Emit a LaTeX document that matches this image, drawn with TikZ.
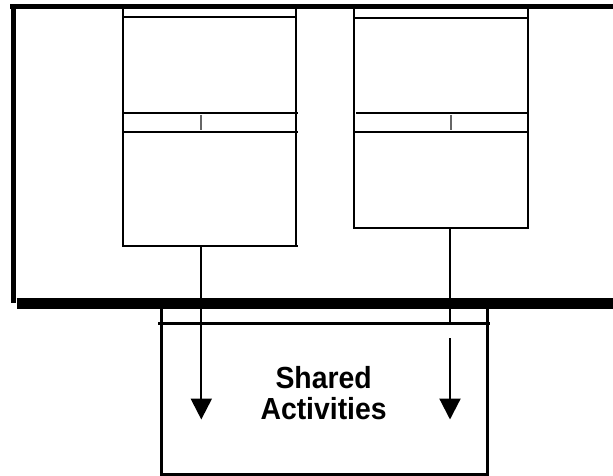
\documentclass[tikz,border=0pt]{standalone}
\usepackage{fontspec}
\setmainfont{Liberation Sans}
\newfontfamily\labelfont[FakeStretch=0.93]{Liberation Sans Bold}
\usetikzlibrary{arrows.meta}
\begin{document}
\begin{tikzpicture}[x=1pt,y=-1pt,
  rule/.style={line width=2.1pt},
  panel/.style={draw, rule, rectangle, inner sep=0pt},
  bar/.style={line width=#1, line cap=butt},
  link/.style={line width=2.2pt},
  tick/.style={line width=1.5pt, draw=black!60},
  droparrow/.style={-{Triangle[width=21pt,length=21pt]}}]
\useasboundingbox (0,0) rectangle (613,476);

% two stacked compartments
\node[panel, minimum width=172.8pt, minimum height=239.7pt] (left) at (209.4,126.35) {};
\node[panel, minimum width=174pt, minimum height=221.7pt] (right) at (441,117.35) {};

% compartment rules of the left box
\draw[rule] (123,16.8) -- (295.8,16.8);
\draw[rule] (123,113.2) -- (297.7,113.2);
\draw[rule] (123,132.2) -- (297.7,132.2);
\draw[rule] (295.8,246.2) -- (297.7,246.2);
\draw[tick] (201.2,115) -- (201.2,130);

% compartment rules of the right box
\draw[rule] (354,17.8) -- (528,17.8);
\draw[rule] (356,113.2) -- (528,113.2);
\draw[rule] (354,132.2) -- (528,132.2);
\draw[tick] (450.8,115) -- (450.8,130);

% shared area below the boundary
\node[draw, line width=3pt, rectangle, inner sep=0pt,
      minimum width=326pt, minimum height=170.7pt] (shared) at (324,389.15) {};
\draw[line width=3.5pt] (158,323.3) -- (490,323.3);

\node[inner sep=0pt, align=center, font=\labelfont\fontsize{30.5}{31}\selectfont]
  (label) at (323.6,393.4) {Shared\\Activities};

% boundary frame
\draw[bar=5pt] (10,6.5) -- (613,6.5);
\draw[bar=4.5pt] (13.5,6.5) -- (13.5,302.7);
\draw[bar=11pt] (16.7,303.8) -- (613,303.8);

% connectors into the shared area
\coordinate (tipL) at (201.3,419.5);
\draw[link, droparrow] (left.south -| tipL) -- (tipL);

\coordinate (joinR) at (450,323.3);
\coordinate (startR) at (450,338);
\coordinate (tipR) at (450,419.5);
\draw[link] (right.south -| joinR) -- (joinR);
\draw[link, droparrow] (startR) -- (tipR);
\end{tikzpicture}
\end{document}
